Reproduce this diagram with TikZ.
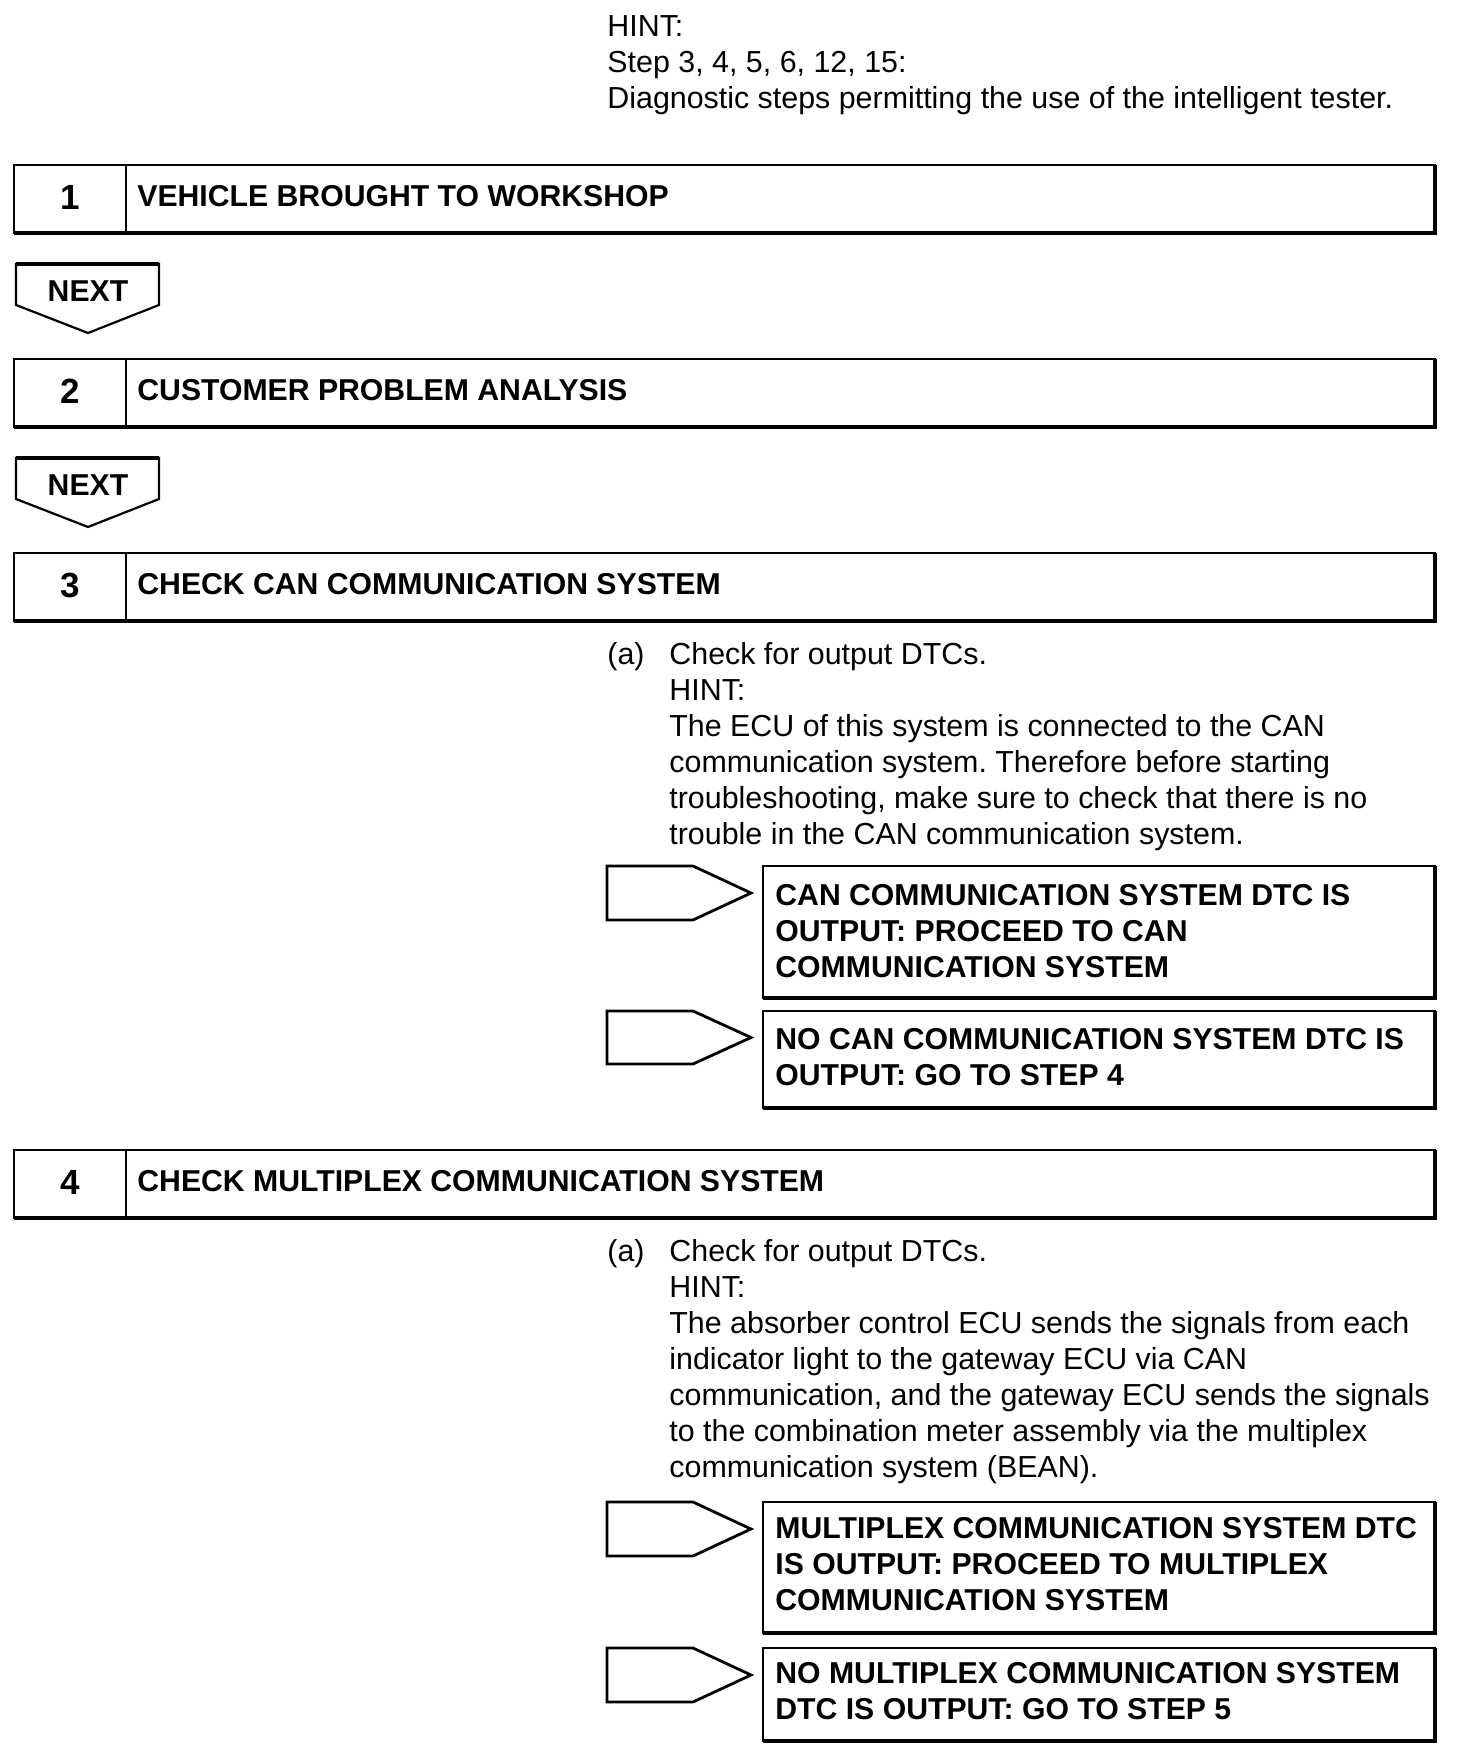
\documentclass[tikz,border=0pt]{standalone}
\usepackage{fontspec}
\setmainfont{Liberation Sans}
\frenchspacing
\begin{document}
\begin{tikzpicture}[x=0.5pt,y=-0.5pt,
  txt/.style={anchor=base west, inner sep=0pt, font=\fontsize{15.2pt}{18pt}\selectfont\frenchspacing},
  btxt/.style={anchor=base west, inner sep=0pt, font=\fontsize{15.1pt}{18pt}\selectfont\bfseries\frenchspacing},
  numtxt/.style={anchor=center, inner sep=0pt, font=\fontsize{17.5pt}{20pt}\selectfont\bfseries},
  thinln/.style={line width=1.1pt},
  thickln/.style={line width=2pt},
  arrln/.style={line width=1.4pt, line join=miter}]
\useasboundingbox (0,0) rectangle (1472,1764);
\fill[white] (0,0) rectangle (1472,1764);

% top hint
\node[txt] (hint) at (607,37) {\vtop{\hbox{HINT:}\hbox{Step 3, 4, 5, 6, 12, 15:}\hbox{Diagnostic steps permitting the use of the intelligent tester.}}};

% step boxes
\foreach \t/\b/\n/\lab in {165/233/1/VEHICLE BROUGHT TO WORKSHOP, 359/427/2/CUSTOMER PROBLEM ANALYSIS, 553/621/3/CHECK CAN COMMUNICATION SYSTEM, 1150/1218/4/CHECK MULTIPLEX COMMUNICATION SYSTEM}{
  \draw[thinln] (14,\t) rectangle (1435,\b);
  \draw[thinln] (126,\t) -- (126,\b);
  \draw[thickln] (14,\b) -- (1435,\b) -- (1435,\t);
  \node[numtxt] (num\n) at (70,{(\t+\b)/2-2}) {\n};
  \node[btxt, anchor=west] (lab\n) at (137,{(\t+\b)/2-3}) {\lab};
}

% NEXT arrows
\foreach \t/\i in {264/1, 458/2}{
  \draw[thinln, line join=miter] (16,\t) -- (159,\t) -- (159,\t+41) -- (88,\t+69) -- (16,\t+41) -- cycle;
  \draw[line width=1.7pt] (16,\t) -- (159,\t);
  \node[btxt, anchor=center] (next\i) at (88,\t+27) {NEXT};
}

% step 3 text
\node[txt] (s3a) at (607,664) {(a)};
\node[txt] (s3t) at (669,664) {\vtop{\hbox{Check for output DTCs.}\hbox{HINT:}\hbox{The ECU of this system is connected to the CAN}\hbox{communication system. Therefore before starting}\hbox{troubleshooting, make sure to check that there is no}\hbox{trouble in the CAN communication system.}}};

% step 4 text
\node[txt] (s4a) at (607,1261) {(a)};
\node[txt] (s4t) at (669,1261) {\vtop{\hbox{Check for output DTCs.}\hbox{HINT:}\hbox{The absorber control ECU sends the signals from each}\hbox{indicator light to the gateway ECU via CAN}\hbox{communication, and the gateway ECU sends the signals}\hbox{to the combination meter assembly via the multiplex}\hbox{communication system (BEAN).}}};

% result arrows and boxes
\foreach \t/\b/\at/\ab/\i in {866/998/866/920/A, 1011/1108/1011/1064/B, 1502/1633/1502/1556/C, 1648/1741/1648/1702/D}{
  \draw[arrln] (607,\at) -- (693,\at) -- (751,{(\at+\ab)/2}) -- (693,\ab) -- (607,\ab) -- cycle;
  \draw[thinln] (763,\t) rectangle (1435,\b);
  \draw[thickln] (763,\b) -- (1435,\b) -- (1435,\t);
}
\node[btxt] (resA) at (775,905) {\vtop{\hbox{CAN COMMUNICATION SYSTEM DTC IS}\hbox{OUTPUT: PROCEED TO CAN}\hbox{COMMUNICATION SYSTEM}}};
\node[btxt] (resB) at (775,1049) {\vtop{\hbox{NO CAN COMMUNICATION SYSTEM DTC IS}\hbox{OUTPUT: GO TO STEP 4}}};
\node[btxt] (resC) at (775,1538) {\vtop{\hbox{MULTIPLEX COMMUNICATION SYSTEM DTC}\hbox{IS OUTPUT: PROCEED TO MULTIPLEX}\hbox{COMMUNICATION SYSTEM}}};
\node[btxt] (resD) at (775,1683) {\vtop{\hbox{NO MULTIPLEX COMMUNICATION SYSTEM}\hbox{DTC IS OUTPUT: GO TO STEP 5}}};
\end{tikzpicture}
\end{document}
